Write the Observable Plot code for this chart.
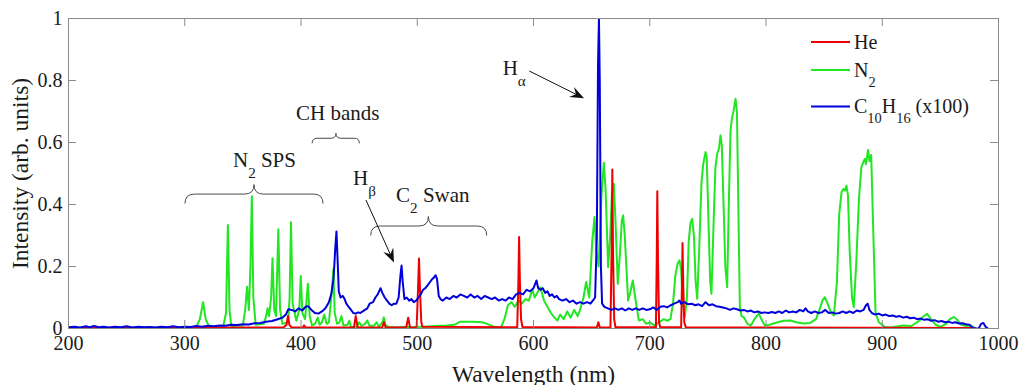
<!DOCTYPE html>
<html><head><meta charset="utf-8">
<script src="https://cdn.jsdelivr.net/npm/d3@7"></script>
<script src="https://cdn.jsdelivr.net/npm/@observablehq/plot@0.6"></script>
<style>html,body{margin:0;padding:0;background:#fff;}</style>
</head><body><div id="chart"></div>
<script>
// ---- data: [wavelength nm, intensity] ----
const heData = [[200,0.002],[385,0.003],[387.5,0.012],[388.8,0.04],[390,0.012],[392,0.003],[401.5,0.003],[402.6,0.01],[403.8,0.003],[445.5,0.003],[447.1,0.04],[448.7,0.003],[469.8,0.003],[471.3,0.02],[472.8,0.003],[490.5,0.003],[492.2,0.035],[493.8,0.003],[499.5,0.004],[500.6,0.12],[501.5,0.226],[502.4,0.12],[503.5,0.02],[504.5,0.006],[586,0.004],[587,0.15],[587.6,0.295],[588.3,0.15],[589.3,0.03],[590.5,0.005],[654.5,0.003],[655.8,0.02],[657,0.003],[666.2,0.004],[667.2,0.25],[667.8,0.513],[668.4,0.25],[669.4,0.03],[670.5,0.004],[705.3,0.004],[706.0,0.22],[706.5,0.443],[707.1,0.22],[708,0.02],[709,0.004],[727,0.004],[727.7,0.14],[728.2,0.276],[728.8,0.14],[729.7,0.02],[731,0.004],[980,0.002]];

const n2Data = [[200,0.002],[305,0.003],[310,0.006],[313,0.03],[315.8,0.085],[318,0.03],[321,0.005],[333,0.004],[335.5,0.05],[337.1,0.334],[338.5,0.06],[340,0.008],[350,0.01],[352,0.06],[353.6,0.135],[355.2,0.06],[356.5,0.2],[357.7,0.427],[359,0.1],[361,0.012],[368,0.015],[370,0.04],[371.2,0.065],[372.5,0.04],[374.3,0.1],[375.5,0.227],[377,0.06],[378.5,0.04],[380.5,0.32],[382,0.06],[384,0.015],[389,0.02],[390.2,0.1],[391.4,0.343],[392.8,0.08],[394,0.06],[396,0.025],[398.5,0.06],[399.8,0.169],[401.2,0.05],[403.5,0.03],[405.9,0.144],[407.5,0.04],[409.5,0.01],[412,0.015],[414.5,0.035],[416,0.012],[418,0.02],[420,0.045],[422,0.015],[424,0.02],[426.5,0.12],[427.8,0.19],[429,0.05],[431,0.015],[433,0.02],[434.8,0.04],[436.5,0.01],[440,0.012],[441.5,0.025],[443,0.005],[448,0.006],[450,0.02],[452,0.008],[455,0.015],[457,0.026],[459,0.008],[463,0.01],[465,0.02],[467,0.006],[470,0.02],[471.3,0.036],[472.8,0.01],[476,0.004],[485,0.004],[490,0.006],[495,0.004],[505,0.006],[515,0.008],[525,0.01],[532,0.012],[537,0.022],[548,0.022],[556,0.02],[560,0.015],[566,0.006],[572,0.004],[575,0.03],[578,0.075],[581,0.085],[584,0.07],[587,0.09],[590,0.08],[593,0.095],[596,0.09],[599,0.125],[601,0.1],[604,0.12],[606,0.133],[609,0.09],[612,0.07],[615,0.05],[618,0.035],[620.5,0.026],[623,0.045],[626,0.03],[629,0.055],[632,0.035],[635,0.06],[638,0.04],[640,0.06],[643,0.1],[645.3,0.15],[648,0.1],[650.5,0.28],[652.5,0.36],[654,0.25],[656,0.2],[658.5,0.43],[660.5,0.535],[662,0.45],[664.2,0.198],[666,0.3],[667.5,0.44],[669.1,0.467],[670.5,0.35],[672.5,0.144],[674.5,0.25],[676,0.35],[677.1,0.365],[678.5,0.3],[681.4,0.09],[683.5,0.12],[685.4,0.155],[687.5,0.1],[690.6,0.026],[694,0.03],[697,0.015],[700,0.02],[704,0.01],[708,0.02],[712,0.03],[715,0.025],[717.8,0.03],[720,0.08],[722,0.17],[724,0.21],[725.6,0.22],[727,0.19],[728.5,0.08],[730.2,0.037],[732,0.1],[733.5,0.28],[735,0.34],[736.5,0.354],[738,0.3],[739.5,0.15],[740.8,0.096],[742.5,0.25],[744.5,0.47],[746,0.53],[747,0.55],[748,0.569],[749,0.55],[750.5,0.35],[752,0.15],[753.1,0.112],[755,0.35],[756.5,0.52],[758,0.563],[759.5,0.58],[760.9,0.623],[762,0.59],[763.5,0.4],[765,0.2],[766.6,0.133],[768,0.4],[769.5,0.64],[770.8,0.68],[772,0.7],[773.8,0.741],[775,0.7],[776,0.45],[777.5,0.07],[779,0.04],[781,0.036],[784,0.015],[787,0.01],[790,0.03],[793.8,0.048],[796,0.03],[799,0.01],[803,0.012],[810,0.02],[815,0.025],[821,0.026],[826,0.02],[832,0.016],[838,0.018],[843,0.03],[846,0.06],[848.5,0.09],[850.6,0.101],[853,0.08],[856,0.05],[858.4,0.042],[861,0.15],[863,0.37],[865,0.44],[866.5,0.45],[868,0.445],[869.2,0.461],[870.5,0.43],[872,0.25],[874,0.1],[875.5,0.069],[877.5,0.2],[880,0.42],[882,0.52],[884,0.54],[885,0.547],[886,0.53],[887.8,0.576],[889,0.54],[890.5,0.56],[892,0.35],[894.2,0.053],[897,0.02],[902.8,0.004],[910,0.005],[918,0.01],[925,0.008],[932,0.025],[935,0.038],[938.6,0.047],[942,0.03],[946,0.012],[950,0.005],[955,0.015],[958,0.03],[961.5,0.037],[964,0.03],[968,0.012],[972,0.008],[976,0.01],[979,0.004]];

const c10Data = [[200,0.004],[205,0.006],[210,0.003],[215,0.007],[218,0.004],[222,0.008],[226,0.004],[230,0.006],[235,0.003],[240,0.006],[245,0.004],[250,0.007],[255,0.003],[260,0.006],[265,0.004],[270,0.005],[275,0.003],[280,0.006],[285,0.004],[290,0.007],[295,0.004],[300,0.006],[305,0.005],[310,0.008],[315,0.006],[320,0.009],[325,0.007],[330,0.01],[335,0.009],[340,0.012],[345,0.011],[350,0.014],[355,0.013],[360,0.017],[365,0.018],[370,0.022],[375,0.024],[380,0.03],[384,0.035],[387,0.045],[389,0.062],[392,0.06],[395,0.055],[398,0.065],[401,0.058],[404,0.07],[406,0.072],[409,0.06],[412,0.05],[415,0.048],[418,0.055],[421,0.065],[424,0.085],[426,0.11],[428,0.16],[429.5,0.26],[430.5,0.313],[431.5,0.22],[432.5,0.12],[434,0.1],[436,0.105],[437.5,0.095],[439,0.08],[441,0.07],[443,0.06],[445,0.05],[447,0.048],[449,0.052],[451,0.05],[453,0.055],[455,0.06],[457,0.065],[459,0.08],[462,0.085],[464,0.1],[466,0.11],[468.4,0.13],[470,0.115],[472,0.1],[474,0.09],[476,0.08],[478,0.075],[480,0.08],[482,0.08],[484,0.1],[485.5,0.17],[486.5,0.203],[487.5,0.15],[489,0.095],[491,0.1],[493,0.09],[495,0.095],[497,0.085],[499,0.09],[501,0.1],[503,0.11],[505,0.125],[507,0.13],[509,0.14],[511,0.15],[513,0.16],[514.5,0.165],[515.7,0.172],[517,0.16],[518.5,0.105],[520,0.095],[522,0.09],[525,0.1],[528,0.095],[531,0.105],[534,0.1],[537,0.11],[540,0.105],[543,0.1],[546,0.11],[549,0.1],[552,0.105],[555,0.095],[558,0.105],[561,0.1],[564,0.095],[567,0.1],[570,0.09],[573,0.095],[576,0.09],[579,0.1],[582,0.095],[585,0.11],[588,0.115],[591,0.11],[594,0.125],[597,0.12],[600,0.13],[602.6,0.155],[604,0.13],[606,0.125],[608,0.13],[610,0.115],[612,0.12],[614,0.105],[616,0.11],[618,0.1],[620,0.105],[622,0.095],[625,0.09],[628,0.095],[631,0.085],[634,0.09],[637,0.08],[640,0.085],[643,0.08],[646,0.085],[649,0.08],[651,0.09],[653,0.1],[654.5,0.3],[655.5,0.85],[656.3,1.0],[657,0.8],[658,0.2],[659,0.08],[661,0.07],[664,0.065],[667,0.06],[670,0.065],[673,0.06],[676,0.065],[679,0.058],[682,0.065],[685,0.06],[688,0.065],[691,0.06],[694,0.065],[697,0.06],[700,0.062],[703,0.068],[706,0.06],[709,0.07],[712,0.072],[715,0.068],[718,0.075],[721,0.08],[724,0.085],[725.5,0.09],[727,0.08],[730,0.085],[733,0.078],[736,0.08],[739,0.075],[742,0.078],[745,0.072],[748,0.085],[751,0.075],[754,0.078],[757,0.072],[760,0.07],[763,0.068],[766,0.065],[769,0.06],[772,0.065],[775,0.062],[778,0.058],[781,0.06],[784,0.055],[787,0.058],[790,0.052],[793,0.055],[796,0.05],[799,0.052],[802,0.05],[805,0.053],[808,0.05],[811,0.055],[814,0.05],[817,0.058],[820,0.052],[823,0.055],[826,0.052],[829,0.06],[832,0.055],[834,0.065],[836,0.055],[839,0.05],[842,0.055],[845,0.05],[848,0.052],[851,0.06],[854,0.05],[857,0.052],[860,0.048],[863,0.05],[866,0.055],[869,0.05],[872,0.055],[875,0.05],[878,0.058],[881,0.055],[884,0.06],[886,0.075],[887.5,0.08],[889,0.06],[891,0.05],[894,0.045],[897,0.048],[900,0.042],[903,0.045],[906,0.04],[909,0.042],[912,0.038],[915,0.04],[918,0.035],[921,0.038],[924,0.033],[927,0.035],[930,0.03],[933,0.032],[936,0.028],[939,0.03],[942,0.025],[945,0.027],[948,0.022],[951,0.024],[954,0.02],[957,0.022],[960,0.018],[963,0.02],[966,0.016],[969,0.017],[972,0.014],[975,0.012],[977,0.005],[979,0.0],[983,0.0],[985,0.015],[987,0.018],[989,0.005],[991,0.0]];

const xTicks = [200,300,400,500,600,700,800,900,1000];
const yTicks = [0,0.2,0.4,0.6,0.8,1];
const yTickLabels = ["0","0.2","0.4","0.6","0.8","1"];
const seriesNames = ["He","N_{2}","C_{10}H_{16} (x100)"];
const seriesColors = ["#ee0000","#22e622","#0000dd"];
const xLabel = "Wavelength (nm)";
const yLabel = "Intensity (arb. units)";

// annotations (data units)
const noteTexts = ["N_{2} SPS","CH bands","H_{β}","C_{2} Swan","H_{α}"];
const noteX = [341.9, 396.1, 445.2, 482.2, 573.9];
const noteY = [0.542, 0.694, 0.484, 0.429, 0.839];
// braces: start, end, tip wavelength, level
const braceX1 = [300.6, 410, 460.4];
const braceX2 = [419.4, 450.6, 560.2];
const braceTip = [360, 430.5, 510];
const braceY = [0.432, 0.612, 0.329];
// arrows: from -> to
const arrowFrom = [[456.3,0.413],[596.8,0.829]];
const arrowTo = [[480.4,0.211],[643.9,0.741]];

const FONT = "'Liberation Serif','Times New Roman',serif";
const AXIS = "#8a8a8a";

function rich(t, str, fs, shiftEm) {
  const parts = str.split(/(_\{[^}]*\})/);
  let shifted = 0;
  for (const p of parts) {
    if (!p) continue;
    if (p.startsWith("_{")) {
      const s = fs * shiftEm;
      t.append("tspan").attr("font-size", fs * 0.72).attr("dy", s - shifted).text(p.slice(2, -1));
      shifted = s;
    } else {
      const ts = t.append("tspan").text(p);
      if (shifted) ts.attr("dy", -shifted);
      shifted = 0;
    }
  }
}

function annotations(index, scales, values, dims) {
  const {x, y} = scales;
  const g = d3.create("svg:g").attr("font-family", FONT).attr("text-anchor", "start").style("white-space", "pre");
  // braces
  braceX1.forEach((_, i) => {
    const x1 = x(braceX1[i]), x2 = x(braceX2[i]), xm = x(braceTip[i]), yy = y(braceY[i]);
    const h = i === 1 ? 5 : 9.5;
    const d = `M${x1},${yy + h} Q${x1},${yy} ${x1 + h},${yy} L${xm - h},${yy} Q${xm},${yy} ${xm},${yy - h} Q${xm},${yy} ${xm + h},${yy} L${x2 - h},${yy} Q${x2},${yy} ${x2},${yy + h}`;
    g.append("path").attr("d", d).attr("fill", "none").attr("stroke", "#4a4a4a").attr("stroke-width", 1);
  });
  // arrows
  arrowFrom.forEach((f, i) => {
    const t = arrowTo[i];
    const xa = x(f[0]), ya = y(f[1]), xb = x(t[0]), yb = y(t[1]);
    const ang = Math.atan2(yb - ya, xb - xa);
    const L = 14, W = 5.5, N = 9;
    const cx = Math.cos(ang), sy = Math.sin(ang);
    const bx = xb - L * cx, by = yb - L * sy;
    const nx = xb - N * cx, ny = yb - N * sy;
    g.append("line").attr("x1", xa).attr("y1", ya).attr("x2", nx).attr("y2", ny).attr("stroke", "#111").attr("stroke-width", 1);
    g.append("path").attr("d", `M${xb},${yb} L${bx - W * sy},${by + W * cx} L${nx},${ny} L${bx + W * sy},${by - W * cx} Z`).attr("fill", "#111");
  });
  // texts
  noteTexts.forEach((s, i) => {
    const t = g.append("text").attr("x", x(noteX[i])).attr("y", y(noteY[i]) + 7.3).attr("font-size", 21).attr("fill", "#1a1a1a");
    rich(t, s, 21, 0.5);
  });
  // legend (inside top-right of frame)
  const right = dims.width - dims.marginRight, top = dims.marginTop;
  const rows = [24, 52, 88.5];
  seriesNames.forEach((s, i) => {
    const yy = top + rows[i];
    g.append("line").attr("x1", right - 187).attr("x2", right - 148).attr("y1", yy).attr("y2", yy).attr("stroke", seriesColors[i]).attr("stroke-width", 2);
    const t = g.append("text").attr("x", right - 144).attr("y", yy + 6.8).attr("font-size", 20).attr("fill", "#1a1a1a");
    rich(t, s, 20, 0.5);
  });
  return g.node();
}

const lineOpts = (c) => ({x: d => d[0], y: d => d[1], stroke: c, strokeWidth: 2, clip: true, strokeLinejoin: "round"});

const chart = Plot.plot({
  width: 1019, height: 385,
  marginLeft: 68, marginRight: 21, marginTop: 18, marginBottom: 57,
  x: {domain: [200, 1000]},
  y: {domain: [0, 1]},
  style: {fontFamily: FONT, fontSize: "20px", color: "#1a1a1a", background: "#fff", overflow: "visible"},
  marks: [
    Plot.line(n2Data, lineOpts(seriesColors[1])),
    Plot.line(heData, lineOpts(seriesColors[0])),
    Plot.line(c10Data, lineOpts(seriesColors[2])),
    Plot.frame({stroke: AXIS}),
    Plot.ruleX(xTicks, {x: d => d, stroke: AXIS, insetTop: 302}),
    Plot.ruleX(xTicks, {x: d => d, stroke: AXIS, insetBottom: 302}),
    Plot.ruleY(yTicks, {y: d => d, stroke: AXIS, insetRight: 922}),
    Plot.ruleY(yTicks, {y: d => d, stroke: AXIS, insetLeft: 922}),
    Plot.axisX(xTicks, {tickSize: 0, tickPadding: 7, label: null, fontSize: 20, tickFormat: d => String(d)}),
    Plot.axisY(yTicks, {tickSize: 0, tickPadding: 6, label: null, fontSize: 20, tickFormat: d => yTickLabels[yTicks.indexOf(d)]}),
    Plot.text([xLabel], {text: d => d, frameAnchor: "bottom", dy: 53, lineAnchor: "bottom", fontSize: 23.5}),
    Plot.text([yLabel], {text: d => d, frameAnchor: "left", dx: -48, rotate: -90, textAnchor: "middle", lineAnchor: "middle", fontSize: 23.5}),
    annotations
  ]
});
document.getElementById("chart").appendChild(chart);
</script>
</body></html>
